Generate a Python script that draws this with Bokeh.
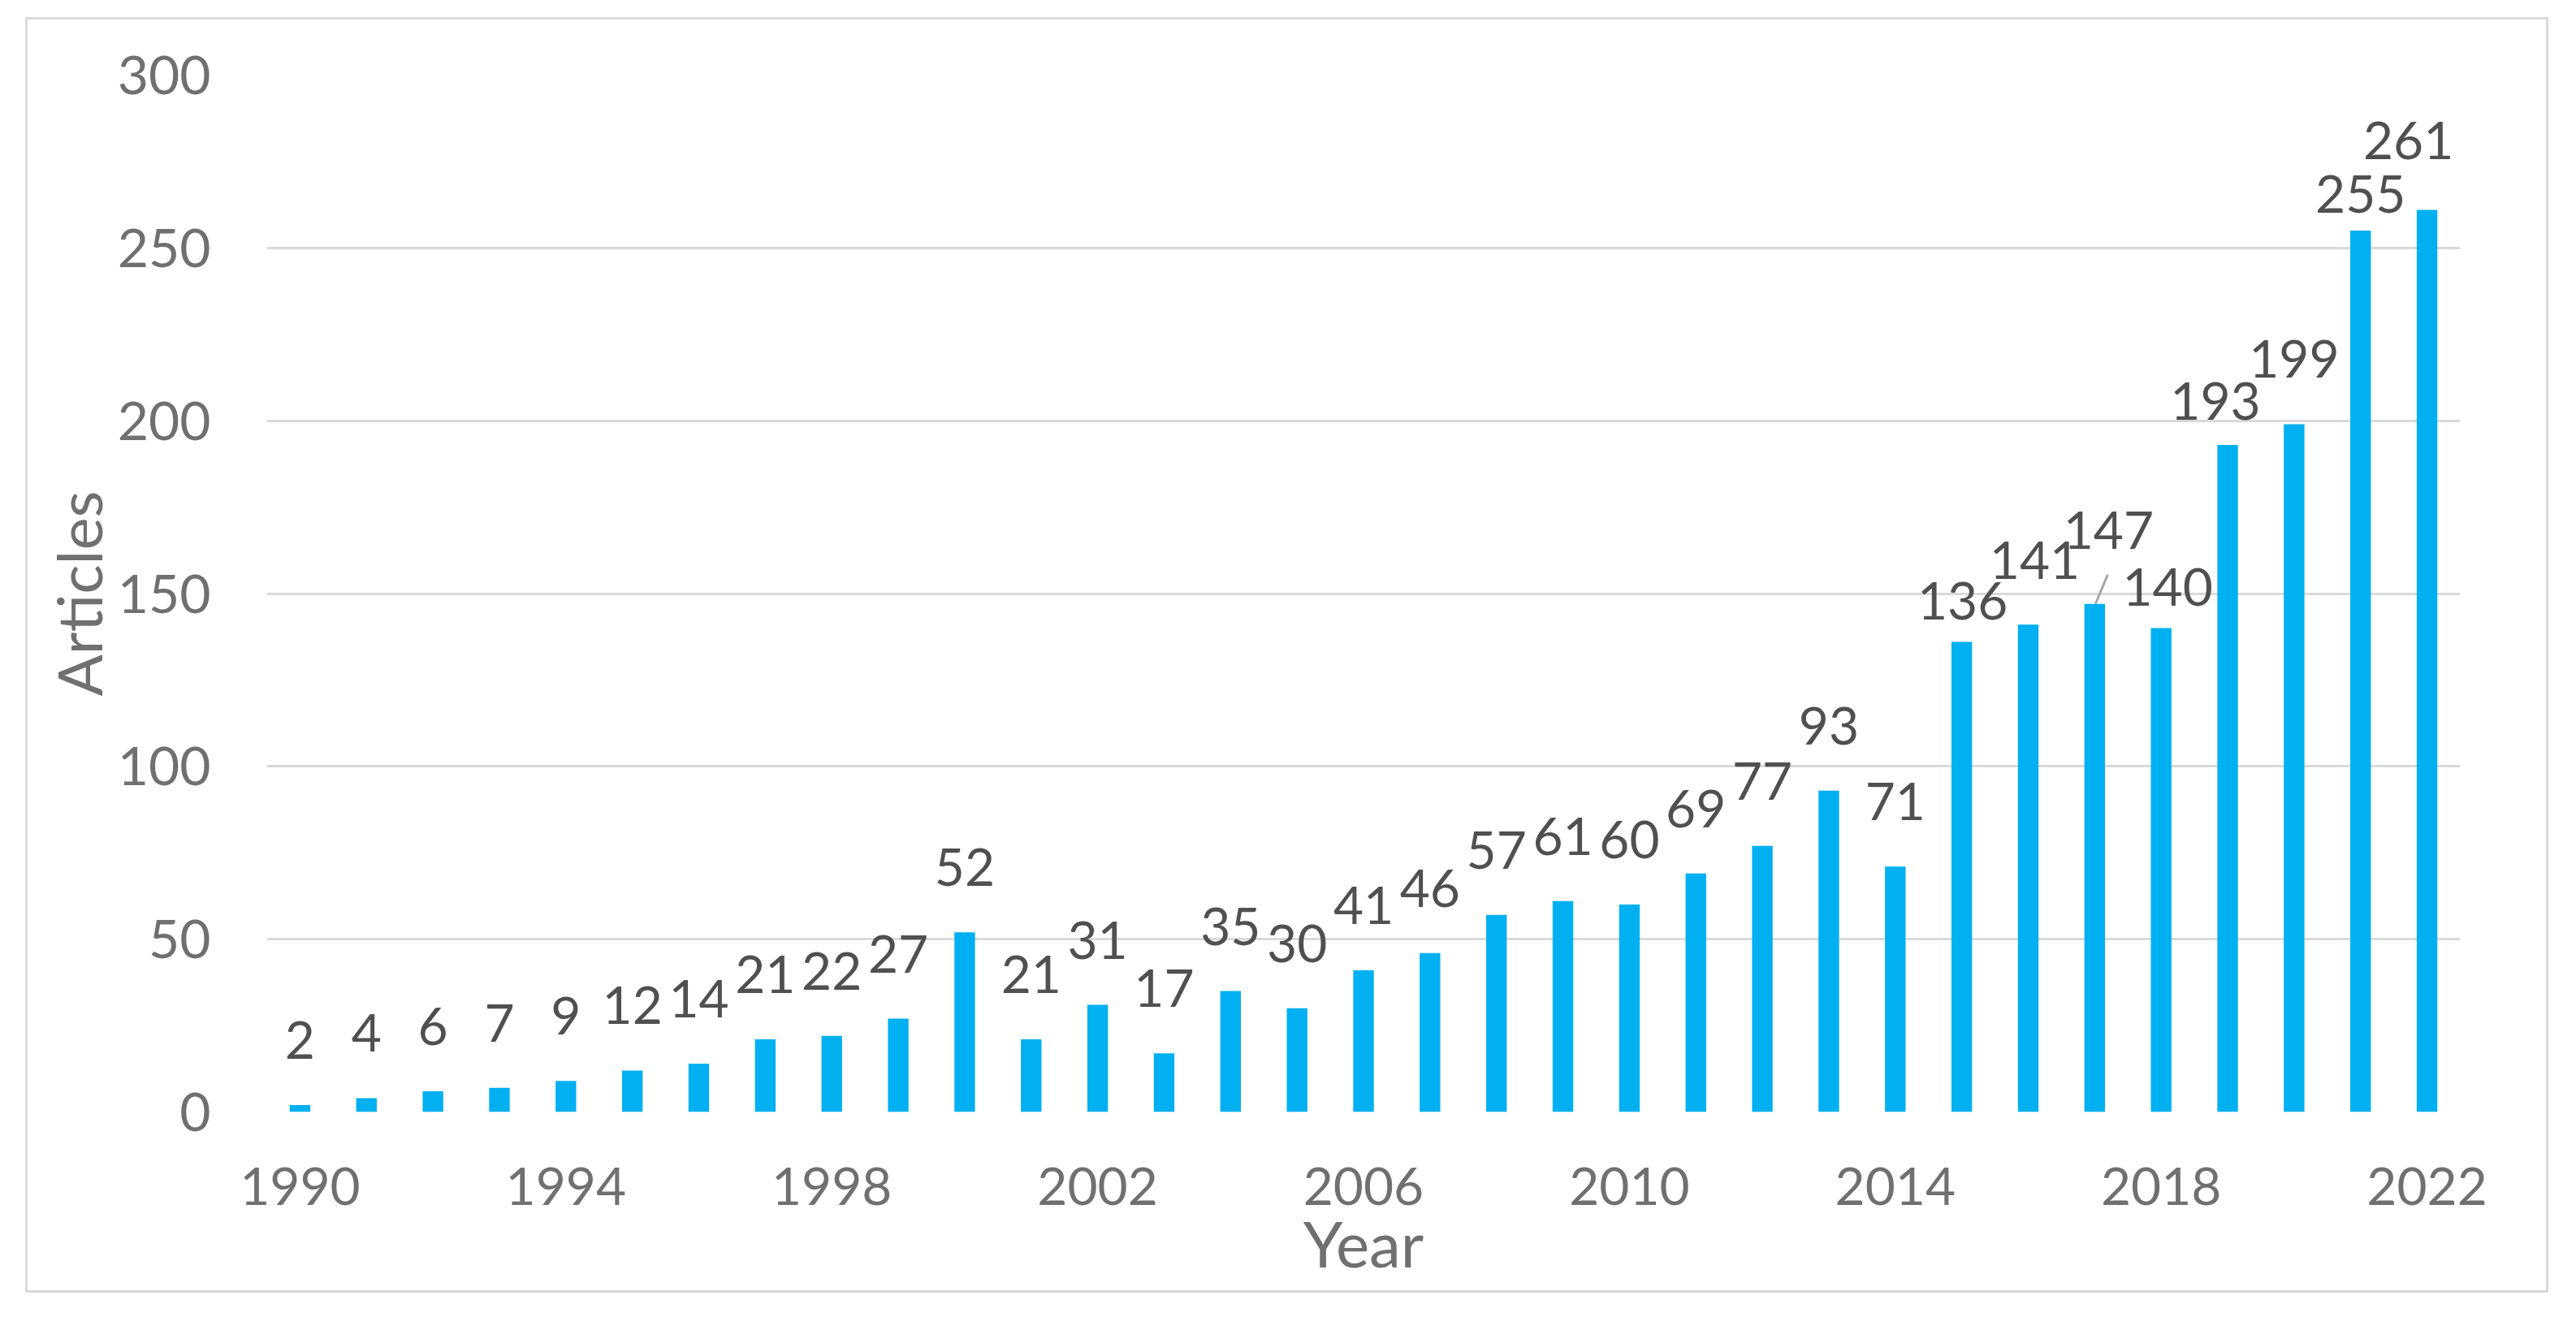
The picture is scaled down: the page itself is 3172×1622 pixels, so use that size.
from bokeh.plotting import figure
from bokeh.models import ColumnDataSource, FixedTicker, Range1d
from bokeh.core.properties import value
from bokeh.embed import file_html
from bokeh.resources import INLINE

# ---- data ----
years = list(range(1990, 2023))
articles = [2, 4, 6, 7, 9, 12, 14, 21, 22, 27,
            52, 21, 31, 17, 35, 30, 41, 46, 57, 61,
            60, 69, 77, 93, 71, 136, 141, 147, 140, 193,
            199, 255, 261]
x_tick_years = [1990, 1994, 1998, 2002, 2006, 2010, 2014, 2018, 2022]
y_tick_values = [0, 50, 100, 150, 200, 250, 300]

# ---- label placement (pixels): horizontal shift, rise of label centre above bar top ----
default_rise = 80
label_adjust = {2015: (1, 51), 2016: (8, 79), 2017: (17, 91), 2018: (8, 51),
                2019: (-15, 54), 2021: (0, 45), 2022: (-23, 86)}
leader_years = [2017]

FRAME_W, FRAME_H = 2701, 1277
X0, X1 = 1989.5, 2022.5
Y0, Y1 = 0, 300
px_per_year = FRAME_W / (X1 - X0)
px_per_unit = FRAME_H / (Y1 - Y0)

dx = [label_adjust.get(y, (0, default_rise))[0] for y in years]
dy = [-label_adjust.get(y, (0, default_rise))[1] for y in years]

src = ColumnDataSource(dict(year=years, articles=articles,
                            label=[str(v) for v in articles], dx=dx, dy=dy))

TICK_COLOR = "#707070"
LABEL_COLOR = "#505050"
FONT = "Lato"

p = figure(frame_width=FRAME_W, frame_height=FRAME_H,
           x_range=Range1d(X0, X1), y_range=Range1d(Y0, Y1),
           output_backend="svg", toolbar_location=None,
           min_border_left=294, min_border_right=106,
           min_border_top=68, min_border_bottom=220,
           margin=(21, 0, 0, 31),
           styles={"border": "3px solid #D9D9D9"})
p.outline_line_color = None
p.background_fill_color = "white"
p.border_fill_color = "white"

p.vbar(x="year", top="articles", width=0.31, bottom=0, source=src,
       fill_color="#00B0F0", line_color=None)

p.text(x="year", y="articles", text="label", x_offset="dx", y_offset="dy",
       source=src, text_align="center", text_baseline="middle",
       text_font=value(FONT), text_font_size="64px", text_color=LABEL_COLOR)

# leader line(s) for displaced labels
lx0, ly0, lx1, ly1 = [], [], [], []
for yr in leader_years:
    v = articles[years.index(yr)]
    lx0.append(yr + 1 / px_per_year)
    ly0.append(v)
    lx1.append(yr + 16 / px_per_year)
    ly1.append(v + 36 / px_per_unit)
p.segment(x0=lx0, y0=ly0, x1=lx1, y1=ly1, line_color="#A6A6A6", line_width=3)

# grid
p.xgrid.grid_line_color = None
p.ygrid.ticker = FixedTicker(ticks=y_tick_values)
p.ygrid.grid_line_color = "#D9D9D9"
p.ygrid.grid_line_width = 3

# y axis
p.yaxis.ticker = FixedTicker(ticks=y_tick_values)
p.yaxis.axis_line_color = None
p.yaxis.major_tick_line_color = None
p.yaxis.minor_tick_line_color = None
p.yaxis.major_label_standoff = 63
p.yaxis.major_label_text_font = FONT
p.yaxis.major_label_text_font_size = "66px"
p.yaxis.major_label_text_color = TICK_COLOR
p.yaxis.axis_label = "Articles"
p.yaxis.axis_label_text_font = FONT
p.yaxis.axis_label_text_font_size = "76px"
p.yaxis.axis_label_text_font_style = "normal"
p.yaxis.axis_label_text_color = TICK_COLOR
p.yaxis.axis_label_standoff = 0

# x axis
p.xaxis.ticker = FixedTicker(ticks=x_tick_years)
p.xaxis.axis_line_color = None
p.xaxis.major_tick_line_color = None
p.xaxis.minor_tick_line_color = None
p.xaxis.major_label_standoff = 62
p.xaxis.major_label_text_font = FONT
p.xaxis.major_label_text_font_size = "64px"
p.xaxis.major_label_text_color = TICK_COLOR
p.xaxis.axis_label = "Year"
p.xaxis.axis_label_text_font = FONT
p.xaxis.axis_label_text_font_size = "78px"
p.xaxis.axis_label_text_font_style = "normal"
p.xaxis.axis_label_text_color = TICK_COLOR
p.xaxis.axis_label_standoff = -3

open("out.html", "w").write(file_html(p, INLINE))
